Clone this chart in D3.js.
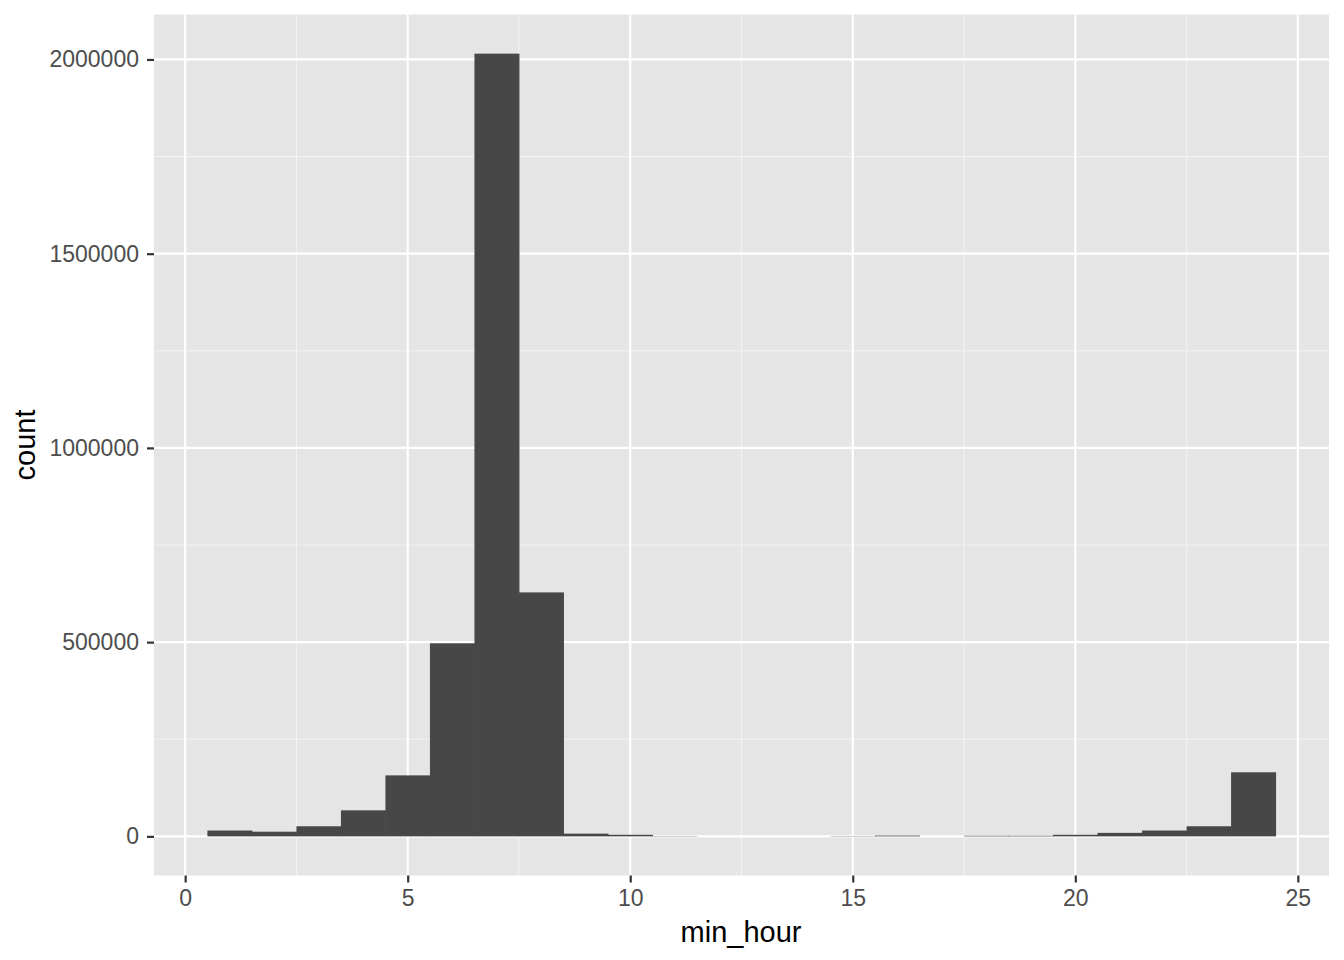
<!DOCTYPE html>
<html><head><meta charset="utf-8">
<script src="https://cdn.jsdelivr.net/npm/d3@7"></script>
<style>body{margin:0;background:#fff}svg{display:block}text{font-family:"Liberation Sans",Arial,sans-serif}</style>
</head><body>
<svg id="c" width="1344" height="960"></svg>
<script>
const hours = [1,2,3,4,5,6,7,8,9,10,11,12,13,14,15,16,17,18,19,20,21,22,23,24];
const counts = [15000,12000,26000,67000,157000,497000,2015000,628000,7000,4000,700,0,0,0,700,2000,0,1500,1500,4000,9000,15000,26000,165000];
const xTicks = [0,5,10,15,20,25];
const yTicks = [0,500000,1000000,1500000,2000000];
const xMinor = [2.5,7.5,12.5,17.5,22.5];
const yMinor = [250000,750000,1250000,1750000];

const svg = d3.select("#c");
const L=154, R=1329, T=14.5, B=875.5;
const x = d3.scaleLinear().domain([-0.7,25.7]).range([L,R]);
const y = d3.scaleLinear().domain([-100750,2115750]).range([B,T]);

svg.append("rect").attr("x",L).attr("y",T).attr("width",R-L).attr("height",B-T).attr("fill","#E5E5E5");
const g = svg.append("g");
g.selectAll(".xm").data(xMinor).join("line").attr("x1",d=>x(d)).attr("x2",d=>x(d)).attr("y1",T).attr("y2",B).attr("stroke","#F2F2F2").attr("stroke-width",1.1);
g.selectAll(".ym").data(yMinor).join("line").attr("y1",d=>y(d)).attr("y2",d=>y(d)).attr("x1",L).attr("x2",R).attr("stroke","#F2F2F2").attr("stroke-width",1.1);
g.selectAll(".xM").data(xTicks).join("line").attr("x1",d=>x(d)).attr("x2",d=>x(d)).attr("y1",T).attr("y2",B).attr("stroke","#fff").attr("stroke-width",2.2);
g.selectAll(".yM").data(yTicks).join("line").attr("y1",d=>y(d)).attr("y2",d=>y(d)).attr("x1",L).attr("x2",R).attr("stroke","#fff").attr("stroke-width",2.2);

const data = hours.map((h,i)=>({h,c:counts[i]}));
svg.append("g").selectAll("rect").data(data.filter(d=>d.c>0)).join("rect")
  .attr("x",d=>x(d.h-0.5)).attr("width",d=>x(d.h+0.5)-x(d.h-0.5)+0.5)
  .attr("y",d=>y(d.c)).attr("height",d=>y(0)-y(d.c)).attr("fill","#474747");

const xa = svg.append("g").attr("transform",`translate(0,${B})`)
  .call(d3.axisBottom(x).tickValues(xTicks).tickSize(7).tickPadding(7).tickFormat(d3.format("d")));
const ya = svg.append("g").attr("transform",`translate(${L},0)`)
  .call(d3.axisLeft(y).tickValues(yTicks).tickSize(7).tickPadding(8).tickFormat(d3.format("d")));
[xa,ya].forEach(a=>{
  a.select(".domain").remove();
  a.selectAll(".tick line").attr("stroke","#333").attr("stroke-width",2.2);
  a.selectAll(".tick text").attr("fill","#4D4D4D").attr("font-size","23px").attr("font-family","Liberation Sans, Arial, sans-serif");
});

svg.append("text").attr("x",741).attr("y",941.5).attr("text-anchor","middle").attr("font-size","29px").attr("fill","#000").text("min_hour");
svg.append("text").attr("transform",`translate(35,${(T+B)/2}) rotate(-90)`).attr("text-anchor","middle").attr("font-size","29px").attr("fill","#000").text("count");
</script>
</body></html>
